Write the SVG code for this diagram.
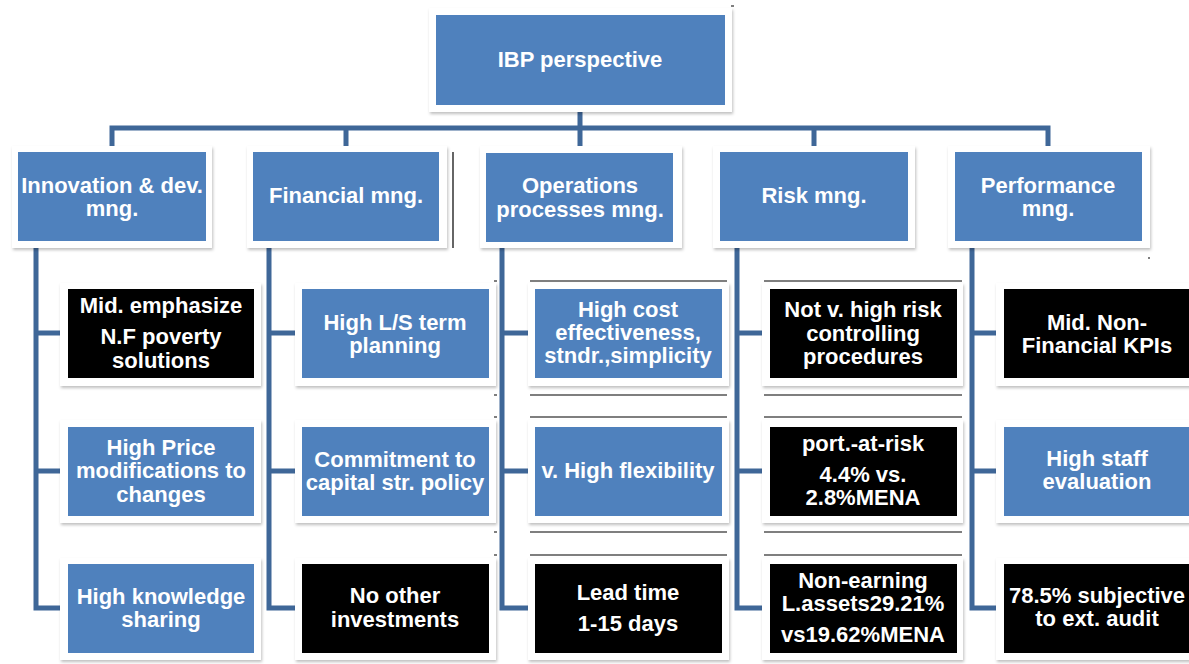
<svg xmlns="http://www.w3.org/2000/svg" width="1189" height="664" viewBox="0 0 1189 664">
  <defs>
    <filter id="lift" x="-10%" y="-10%" width="125%" height="130%">
      <feDropShadow dx="1" dy="2" stdDeviation="1.5" flood-color="#000" flood-opacity="0.25"/>
    </filter>
    <style>
      .frame { fill: #ffffff; filter: url(#lift); }
      .blue { fill: #4f81bd; }
      .black { fill: #000000; }
      .txt { fill: #ffffff; font-family: "Liberation Sans", Arial, sans-serif; font-weight: bold; font-size: 22px; text-anchor: middle; }
      .conn { fill: none; stroke: #3f6798; stroke-width: 5; stroke-linejoin: miter; }
      .hair { fill: none; stroke: #000000; stroke-width: 1.2; }
    </style>
  </defs>
  <rect width="1189" height="664" fill="#ffffff"/>

  <!-- connectors -->
  <g id="connectors">
    <path class="conn" d="M580,105 V128 M112,148 V128 H1048 V148 M346,128 V148 M580,128 V148 M814,128 V148"/>
    <path class="conn" d="M36,246 V608 H60 M36,333 H60 M36,471 H60"/>
    <path class="conn" d="M269,246 V608 H295 M269,333 H295 M269,471 H295"/>
    <path class="conn" d="M502,246 V608 H528 M502,333 H528 M502,471 H528"/>
    <path class="conn" d="M737,246 V608 H762 M737,333 H762 M737,471 H762"/>
    <path class="conn" d="M972,246 V608 H996 M972,333 H996 M972,471 H996"/>
  </g>

  <!-- thin rules around the middle columns -->
  <g id="rules">
    <path class="hair" d="M530,281 H727 M530,395 H727 M530,417 H727 M530,532 H727 M530,555 H727"/>
    <path class="hair" d="M764,281 H962 M764,395 H962 M764,417 H962 M764,532 H962 M764,555 H962"/>
    <path class="hair" d="M494,281 H497 M494,395 H497 M494,417 H497 M494,532 H497 M494,555 H497"/>
    <path class="hair" d="M453,152 V248 M731,6 H734 M1148,258 H1150"/>
  </g>

  <!-- root -->
  <g id="ibp">
    <rect class="frame" x="429" y="8" width="303" height="104"/>
    <rect class="blue" x="436" y="15" width="289" height="90"/>
    <text class="txt" x="580" y="67">IBP perspective</text>
  </g>

  <!-- second level -->
  <g id="innovation">
    <rect class="frame" x="12" y="146" width="200" height="102"/>
    <rect class="blue" x="18" y="152" width="188" height="89"/>
    <text class="txt" x="112" y="193">Innovation &amp; dev.</text>
    <text class="txt" x="112" y="216">mng.</text>
  </g>
  <g id="financial">
    <rect class="frame" x="247" y="146" width="200" height="102"/>
    <rect class="blue" x="253" y="152" width="186" height="89"/>
    <text class="txt" x="346" y="203">Financial mng.</text>
  </g>
  <g id="operations">
    <rect class="frame" x="480" y="146" width="202" height="102"/>
    <rect class="blue" x="486" y="153" width="187" height="89"/>
    <text class="txt" x="580" y="193">Operations</text>
    <text class="txt" x="580" y="217">processes mng.</text>
  </g>
  <g id="risk">
    <rect class="frame" x="713" y="146" width="202" height="102"/>
    <rect class="blue" x="720" y="152" width="188" height="89"/>
    <text class="txt" x="814" y="203">Risk mng.</text>
  </g>
  <g id="performance">
    <rect class="frame" x="948" y="146" width="202" height="102"/>
    <rect class="blue" x="955" y="152" width="187" height="89"/>
    <text class="txt" x="1048" y="193">Performance</text>
    <text class="txt" x="1048" y="216">mng.</text>
  </g>

  <!-- innovation column -->
  <g id="inn-1">
    <rect class="frame" x="60" y="283" width="201" height="103"/>
    <rect class="black" x="68" y="289" width="186" height="89"/>
    <text class="txt" x="161" y="313">Mid. emphasize</text>
    <text class="txt" x="161" y="344">N.F poverty</text>
    <text class="txt" x="161" y="368">solutions</text>
  </g>
  <g id="inn-2">
    <rect class="frame" x="60" y="420" width="201" height="103"/>
    <rect class="blue" x="68" y="427" width="186" height="89"/>
    <text class="txt" x="161" y="455">High Price</text>
    <text class="txt" x="161" y="478">modifications to</text>
    <text class="txt" x="161" y="502">changes</text>
  </g>
  <g id="inn-3">
    <rect class="frame" x="60" y="558" width="201" height="102"/>
    <rect class="blue" x="68" y="564" width="186" height="89"/>
    <text class="txt" x="161" y="604">High knowledge</text>
    <text class="txt" x="161" y="627">sharing</text>
  </g>

  <!-- financial column -->
  <g id="fin-1">
    <rect class="frame" x="295" y="283" width="201" height="103"/>
    <rect class="blue" x="302" y="289" width="187" height="89"/>
    <text class="txt" x="395" y="330">High L/S term</text>
    <text class="txt" x="395" y="353">planning</text>
  </g>
  <g id="fin-2">
    <rect class="frame" x="295" y="420" width="201" height="103"/>
    <rect class="blue" x="302" y="427" width="187" height="89"/>
    <text class="txt" x="395" y="467">Commitment to</text>
    <text class="txt" x="395" y="490">capital str. policy</text>
  </g>
  <g id="fin-3">
    <rect class="frame" x="295" y="558" width="201" height="102"/>
    <rect class="black" x="302" y="564" width="187" height="89"/>
    <text class="txt" x="395" y="603">No other</text>
    <text class="txt" x="395" y="627">investments</text>
  </g>

  <!-- operations column -->
  <g id="ops-1">
    <rect class="frame" x="528" y="283" width="201" height="103"/>
    <rect class="blue" x="535" y="289" width="187" height="89"/>
    <text class="txt" x="628" y="317">High cost</text>
    <text class="txt" x="628" y="340">effectiveness,</text>
    <text class="txt" x="628" y="363">stndr.,simplicity</text>
  </g>
  <g id="ops-2">
    <rect class="frame" x="528" y="420" width="201" height="103"/>
    <rect class="blue" x="535" y="427" width="187" height="89"/>
    <text class="txt" x="628" y="478">v. High flexibility</text>
  </g>
  <g id="ops-3">
    <rect class="frame" x="528" y="558" width="201" height="102"/>
    <rect class="black" x="535" y="564" width="187" height="89"/>
    <text class="txt" x="628" y="600">Lead time</text>
    <text class="txt" x="628" y="631">1-15 days</text>
  </g>

  <!-- risk column -->
  <g id="risk-1">
    <rect class="frame" x="762" y="283" width="201" height="103"/>
    <rect class="black" x="770" y="289" width="187" height="89"/>
    <text class="txt" x="863" y="317">Not v. high risk</text>
    <text class="txt" x="863" y="341">controlling</text>
    <text class="txt" x="863" y="364">procedures</text>
  </g>
  <g id="risk-2">
    <rect class="frame" x="762" y="420" width="201" height="103"/>
    <rect class="black" x="770" y="427" width="187" height="89"/>
    <text class="txt" x="863" y="451">port.-at-risk</text>
    <text class="txt" x="863" y="482">4.4% vs.</text>
    <text class="txt" x="863" y="505">2.8%MENA</text>
  </g>
  <g id="risk-3">
    <rect class="frame" x="762" y="558" width="201" height="102"/>
    <rect class="black" x="770" y="564" width="187" height="89"/>
    <text class="txt" x="863" y="588">Non-earning</text>
    <text class="txt" x="863" y="611">L.assets29.21%</text>
    <text class="txt" x="863" y="642">vs19.62%MENA</text>
  </g>

  <!-- performance column -->
  <g id="perf-1">
    <rect class="frame" x="996" y="283" width="201" height="103"/>
    <rect class="black" x="1004" y="289" width="187" height="89"/>
    <text class="txt" x="1097" y="330">Mid. Non-</text>
    <text class="txt" x="1097" y="353">Financial KPIs</text>
  </g>
  <g id="perf-2">
    <rect class="frame" x="996" y="420" width="201" height="103"/>
    <rect class="blue" x="1004" y="427" width="187" height="89"/>
    <text class="txt" x="1097" y="466">High staff</text>
    <text class="txt" x="1097" y="489">evaluation</text>
  </g>
  <g id="perf-3">
    <rect class="frame" x="996" y="558" width="201" height="102"/>
    <rect class="black" x="1004" y="564" width="187" height="89"/>
    <text class="txt" x="1097" y="603">78.5% subjective</text>
    <text class="txt" x="1097" y="626">to ext. audit</text>
  </g>
</svg>
